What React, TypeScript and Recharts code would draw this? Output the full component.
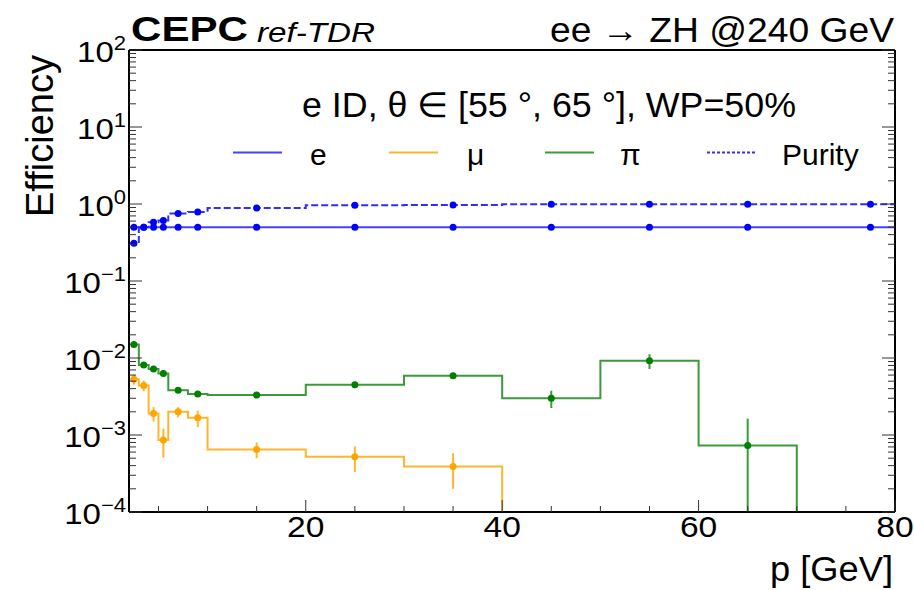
import { ComposedChart, ErrorBar, Line, Scatter, XAxis, YAxis } from "recharts";

// p bins [GeV]; the last bin runs past the frame, its point sits at 77.5
const binEdges = [2, 3, 4, 5, 6, 8, 10, 20, 30, 40, 50, 60, 70, 85];

// efficiencies per bin, 0 = empty bin
const eEff = [0.5, 0.5, 0.5, 0.5, 0.5, 0.5, 0.5, 0.5, 0.5, 0.5, 0.5, 0.5, 0.5];
const purity = [0.31, 0.5, 0.58, 0.61, 0.75, 0.79, 0.89, 0.96, 0.97, 0.99, 0.99, 0.99, 0.99];
const muEff = [0.0053, 0.0044, 0.0019, 0.00086, 0.002, 0.00167, 0.00065, 0.00052, 0.00039, 0, 0, 0, 0];
const muErr = [0.0008, 0.0007, 0.0004, 0.00035, 0.0003, 0.0004, 0.00015, 0.00019, 0.00019, 0, 0, 0, 0];
const piEff = [0.015, 0.0081, 0.0072, 0.0063, 0.0038, 0.0034, 0.0033, 0.0045, 0.0059, 0.003, 0.0092, 0.00073, 0];
const piErr = [0.0005, 0.0003, 0.0003, 0.0003, 0.0002, 0.0002, 0.0001, 0.0002, 0.0003, 0.00076, 0.002, 0.0009, 0];

const legendNames = ["e", "μ", "π", "Purity"];
const yDecades = [-4, -3, -2, -1, 0, 1, 2];
const xMajorTicks = [20, 40, 60, 80];
const xMinorTicks = [5, 10, 15, 25, 30, 35, 45, 50, 55, 65, 70, 75];

const X_MIN = 2;
const X_MAX = 80;
const Y_MIN = 1e-4;
const Y_MAX = 1e2;

const font = '"Liberation Sans", Arial, Helvetica, sans-serif';

const colors = {
  e: { line: "#4343ff", mark: "#0000ff" },
  mu: { line: "#ffb52e", mark: "#ffa500" },
  pi: { line: "#3b9b3b", mark: "#008000" },
  purity: { line: "#2e2eff", mark: "#0000ff" },
};

const yTicks: number[] = [];
yDecades.forEach((d, i) => {
  yTicks.push(Number((10 ** d).toPrecision(3)));
  if (i < yDecades.length - 1) {
    for (let k = 2; k <= 9; k++) yTicks.push(Number((k * 10 ** d).toPrecision(3)));
  }
});
const xTicks = [...xMinorTicks, ...xMajorTicks].sort((a, b) => a - b);

// histogram outline: one point per bin edge, drawn with stepAfter
function stepData(vals: number[]) {
  const pts: { x: number; y: number }[] = [];
  for (let i = 0; i < vals.length; i++) {
    if (vals[i] <= 0) {
      pts.push({ x: binEdges[i], y: Y_MIN });
      break;
    }
    pts.push({ x: binEdges[i], y: vals[i] });
    if (i === vals.length - 1) pts.push({ x: binEdges[i + 1], y: vals[i] });
  }
  return pts;
}

// markers at bin centres, error bars cut at the axis floor
function pointData(vals: number[], errs?: number[]) {
  return vals
    .map((v, i) => {
      const err = errs ? errs[i] : 0;
      return {
        x: (binEdges[i] + binEdges[i + 1]) / 2,
        y: v,
        err: [Math.min(err, v - Y_MIN), err],
      };
    })
    .filter((p) => p.y > 0);
}

const isDecade = (v: number) => Math.abs(Math.log10(v) - Math.round(Math.log10(v))) < 1e-6;
const tickStroke = "#333";

function LeftTick({ x, y, payload }: any) {
  const v = payload.value;
  const major = isDecade(v);
  const exp = Math.round(Math.log10(v));
  return (
    <g>
      <line x1={x} x2={x + (major ? 13 : 7)} y1={y} y2={y} stroke={tickStroke} strokeWidth={1} />
      {major && (
        <g transform={`translate(${x - 3},${y + 12}) scale(1.1,1)`}>
          <text textAnchor="end" fontFamily={font} fontSize={30} fill="#000">
            10
            <tspan dy={-12} fontSize={20}>
              {exp < 0 ? `−${-exp}` : `${exp}`}
            </tspan>
          </text>
        </g>
      )}
    </g>
  );
}

function RightTick({ x, y, payload }: any) {
  const major = isDecade(payload.value);
  return <line x1={x} x2={x - (major ? 13 : 7)} y1={y} y2={y} stroke={tickStroke} strokeWidth={1} />;
}

function BottomTick({ x, y, payload }: any) {
  const major = xMajorTicks.includes(payload.value);
  return (
    <g>
      <line x1={x} x2={x} y1={y} y2={y - (major ? 12 : 6)} stroke={tickStroke} strokeWidth={1} />
      {major && (
        <g transform={`translate(${x},${y + 25}) scale(1.12,1)`}>
          <text textAnchor="middle" fontFamily={font} fontSize={30} fill="#000">
            {payload.value}
          </text>
        </g>
      )}
    </g>
  );
}

function TopTick({ x, y, payload }: any) {
  const major = xMajorTicks.includes(payload.value);
  return <line x1={x} x2={x} y1={y} y2={y + (major ? 12 : 6)} stroke={tickStroke} strokeWidth={1} />;
}

const dot = (fill: string) => (p: any) => <circle cx={p.cx} cy={p.cy} r={3.5} fill={fill} />;

const legendItems = [
  { name: legendNames[0], color: colors.e.line, dash: undefined, x: 233, tx: 310 },
  { name: legendNames[1], color: colors.mu.line, dash: undefined, x: 389, tx: 467 },
  { name: legendNames[2], color: colors.pi.line, dash: undefined, x: 545, tx: 620 },
  { name: legendNames[3], color: colors.purity.line, dash: "3 2", x: 707, tx: 782 },
];

const axisLine = { stroke: "#000", strokeWidth: 2 };

export default function App() {
  return (
    <div style={{ position: "absolute", left: 0, top: 0, width: 914, height: 590, background: "#fff" }}>
      <ComposedChart width={914} height={590} margin={{ top: 0, right: 0, bottom: 0, left: 0 }}>
        <XAxis
          dataKey="x"
          type="number"
          domain={[X_MIN, X_MAX]}
          allowDataOverflow
          ticks={xTicks}
          interval={0}
          height={78}
          tickSize={0}
          tickMargin={0}
          tickLine={false}
          axisLine={axisLine}
          tick={(p: any) => <BottomTick {...p} />}
        />
        <XAxis
          xAxisId="top"
          orientation="top"
          type="number"
          domain={[X_MIN, X_MAX]}
          allowDataOverflow
          ticks={xTicks}
          interval={0}
          height={50}
          tickSize={0}
          tickMargin={0}
          tickLine={false}
          axisLine={axisLine}
          tick={(p: any) => <TopTick {...p} />}
        />
        <YAxis
          dataKey="y"
          type="number"
          scale="log"
          domain={[Y_MIN, Y_MAX]}
          allowDataOverflow
          ticks={yTicks}
          interval={0}
          width={129}
          tickSize={0}
          tickMargin={0}
          tickLine={false}
          axisLine={axisLine}
          tick={(p: any) => <LeftTick {...p} />}
        />
        <YAxis
          yAxisId="right"
          orientation="right"
          type="number"
          scale="log"
          domain={[Y_MIN, Y_MAX]}
          allowDataOverflow
          ticks={yTicks}
          interval={0}
          width={19}
          tickSize={0}
          tickMargin={0}
          tickLine={false}
          axisLine={axisLine}
          tick={(p: any) => <RightTick {...p} />}
        />

        <Line data={stepData(eEff)} dataKey="y" type="stepAfter" stroke={colors.e.line} strokeWidth={2} dot={false} isAnimationActive={false} />
        <Line
          data={stepData(purity)}
          dataKey="y"
          type="stepAfter"
          stroke={colors.purity.line}
          strokeWidth={2}
          strokeDasharray="7 3"
          dot={false}
          isAnimationActive={false}
        />
        <Line data={stepData(muEff)} dataKey="y" type="stepAfter" stroke={colors.mu.line} strokeWidth={2} dot={false} isAnimationActive={false} />
        <Line data={stepData(piEff)} dataKey="y" type="stepAfter" stroke={colors.pi.line} strokeWidth={2} dot={false} isAnimationActive={false} />

        <Scatter data={pointData(eEff)} dataKey="y" shape={dot(colors.e.mark)} isAnimationActive={false} />
        <Scatter data={pointData(purity)} dataKey="y" shape={dot(colors.purity.mark)} isAnimationActive={false} />
        <Scatter data={pointData(muEff, muErr)} dataKey="y" shape={dot(colors.mu.mark)} isAnimationActive={false}>
          <ErrorBar dataKey="err" direction="y" width={0} stroke={colors.mu.line} strokeWidth={2} isAnimationActive={false} />
        </Scatter>
        <Scatter data={pointData(piEff, piErr)} dataKey="y" shape={dot(colors.pi.mark)} isAnimationActive={false}>
          <ErrorBar dataKey="err" direction="y" width={0} stroke={colors.pi.line} strokeWidth={2} isAnimationActive={false} />
        </Scatter>
      </ComposedChart>

      <svg width={914} height={590} style={{ position: "absolute", left: 0, top: 0, pointerEvents: "none" }}>
        <g fontFamily={font} fill="#000">
          <text x={131} y={41} fontSize={35} fontWeight="bold" textLength={117} lengthAdjust="spacingAndGlyphs">
            CEPC
          </text>
          <text x={257} y={42} fontSize={27} fontStyle="italic" textLength={118} lengthAdjust="spacingAndGlyphs">
            ref-TDR
          </text>
          <text x={894} y={41.5} fontSize={35} textAnchor="end" textLength={344} lengthAdjust="spacingAndGlyphs">
            ee → ZH @240 GeV
          </text>
          <text x={302} y={117} fontSize={35} textLength={494} lengthAdjust="spacingAndGlyphs">
            e ID, θ ∈ [55 °, 65 °], WP=50%
          </text>
          <text x={893} y={581} fontSize={35} textAnchor="end" textLength={123} lengthAdjust="spacingAndGlyphs">
            p [GeV]
          </text>
          <text
            x={53}
            y={55}
            fontSize={38}
            textAnchor="end"
            transform="rotate(-90 53 55)"
            textLength={162}
            lengthAdjust="spacingAndGlyphs"
          >
            Efficiency
          </text>
          {legendItems.map((it) => (
            <g key={it.name}>
              <line x1={it.x} x2={it.x + 49} y1={152.5} y2={152.5} stroke={it.color} strokeWidth={2} strokeDasharray={it.dash} />
              <text x={it.tx} y={165} fontSize={30}>
                {it.name}
              </text>
            </g>
          ))}
        </g>
      </svg>
    </div>
  );
}
